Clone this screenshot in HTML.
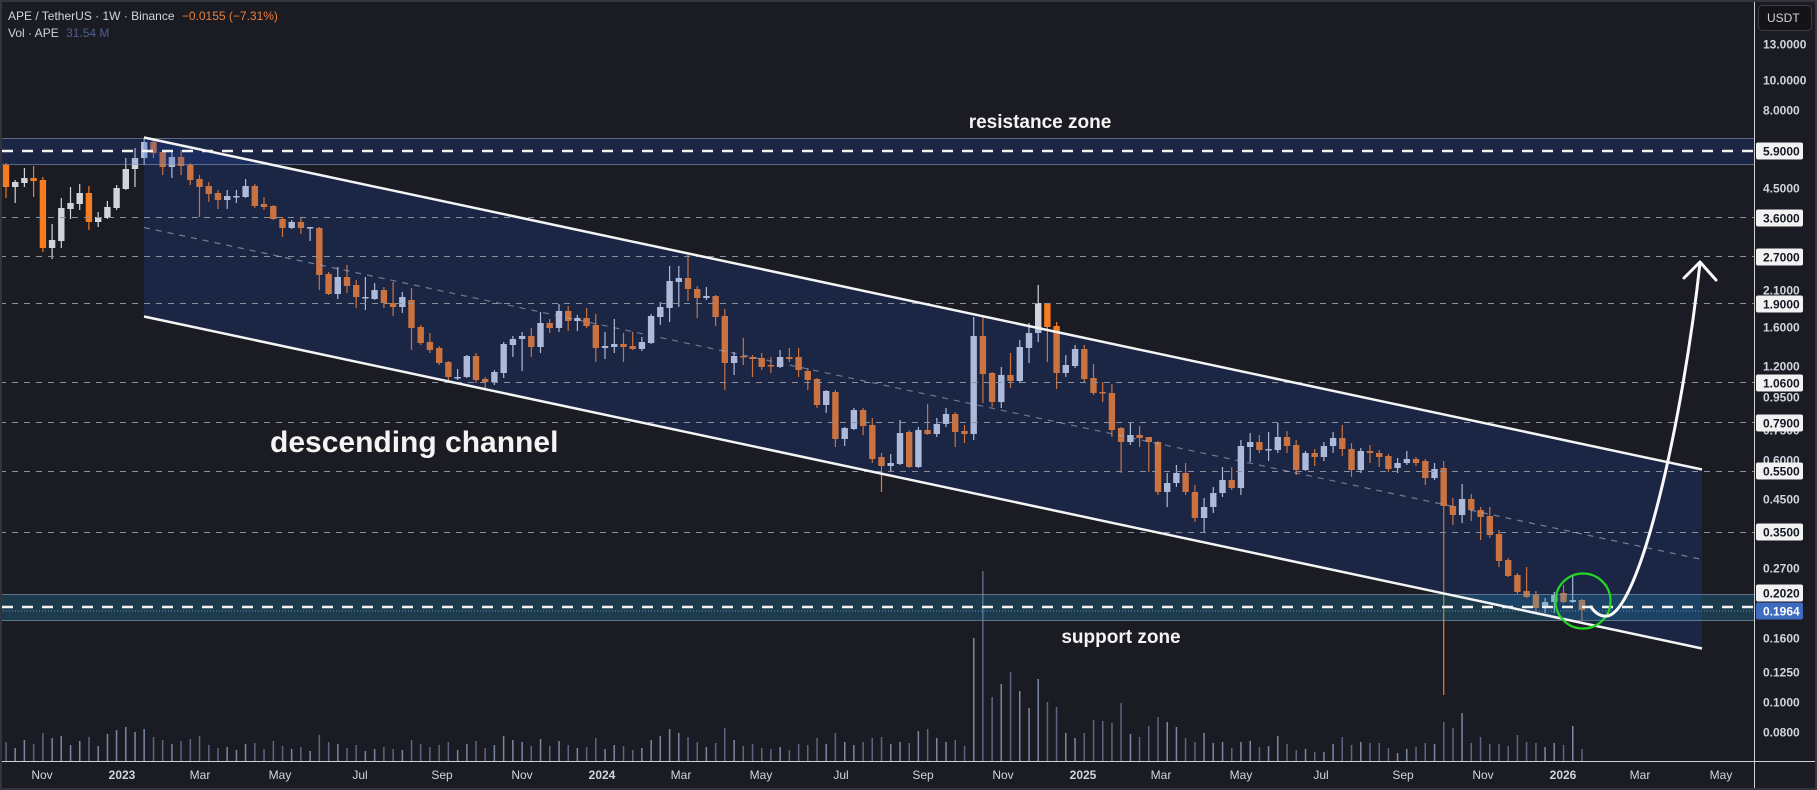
<!DOCTYPE html>
<html><head><meta charset="utf-8">
<style>
html,body{margin:0;padding:0;background:#1b1b24;}
body{width:1817px;height:790px;overflow:hidden;position:relative;font-family:"Liberation Sans",sans-serif;}
svg{position:absolute;left:0;top:0;}
</style></head><body>
<svg id="c" width="1817" height="790" viewBox="0 0 1817 790" xmlns="http://www.w3.org/2000/svg" font-family="Liberation Sans, sans-serif">
<rect width="1817" height="790" fill="#1b1b24"/>
<g id="vol"></g>
<g id="candles"></g>
<!-- fills -->
<rect x="0" y="138" width="1754" height="27" fill="rgba(30,80,200,0.2)"/>
<polygon points="144,138 1702,470 1702,649 144,317" fill="rgba(30,80,200,0.2)"/>
<rect x="0" y="594" width="1754" height="27" fill="rgba(30,160,200,0.25)"/>
<!-- zone borders -->
<g stroke="rgba(150,160,180,0.55)" stroke-width="1">
<line x1="0" y1="138.5" x2="1754" y2="138.5"/>
<line x1="0" y1="164.5" x2="1754" y2="164.5"/>
<line x1="0" y1="594.5" x2="1754" y2="594.5"/>
<line x1="0" y1="620.5" x2="1754" y2="620.5"/>
</g>
<!-- level dashed lines -->
<g stroke="#8a8f9c" stroke-width="1" stroke-dasharray="6 6">
<line x1="0" y1="217.5" x2="1754" y2="217.5"/>
<line x1="0" y1="256.5" x2="1754" y2="256.5"/>
<line x1="0" y1="303.5" x2="1754" y2="303.5"/>
<line x1="0" y1="382.5" x2="1754" y2="382.5"/>
<line x1="0" y1="422.5" x2="1754" y2="422.5"/>
<line x1="0" y1="471.5" x2="1754" y2="471.5"/>
<line x1="0" y1="532.5" x2="1754" y2="532.5"/>
</g>
<!-- last price dotted -->
<line x1="0" y1="611" x2="1754" y2="611" stroke="#6a8cc8" stroke-width="1" stroke-dasharray="1 2"/>
<!-- white dashed -->
<g stroke="#f2f2f2" stroke-width="2.5" stroke-dasharray="11 9">
<line x1="2" y1="151" x2="1754" y2="151"/>
<line x1="2" y1="607" x2="1754" y2="607"/>
</g>
<!-- channel lines -->
<line x1="144" y1="227.5" x2="1702" y2="559.5" stroke="rgba(170,180,205,0.6)" stroke-width="1.2" stroke-dasharray="6 6"/>
<line x1="144" y1="137.5" x2="1702" y2="469.5" stroke="#f4f4f4" stroke-width="2.5"/>
<line x1="144" y1="316.5" x2="1702" y2="648.5" stroke="#f4f4f4" stroke-width="2.5"/>
<!-- annotations -->
<text x="270" y="452" font-size="30" font-weight="bold" fill="#f4f4f4">descending channel</text>
<text x="1040" y="128" font-size="19" font-weight="bold" fill="#f4f4f4" text-anchor="middle">resistance zone</text>
<text x="1121" y="643" font-size="19" font-weight="bold" fill="#f4f4f4" text-anchor="middle">support zone</text>
<circle cx="1583" cy="601" r="27.5" fill="none" stroke="#22d822" stroke-width="2.2"/>
<path d="M1591,607 Q1598,617 1607,616 C1640,612 1683,420 1700,263" fill="none" stroke="#f8f8f8" stroke-width="3" stroke-linecap="round"/>
<path d="M1684,278 L1700,262 L1716,280" fill="none" stroke="#f8f8f8" stroke-width="3" stroke-linecap="round" stroke-linejoin="round"/>
<!-- header -->
<text x="8" y="20" font-size="12" fill="#d1d4dc">APE / TetherUS · 1W · Binance <tspan fill="#e8803c" dx="4">−0.0155 (−7.31%)</tspan></text>
<text x="8" y="37" font-size="12" fill="#d1d4dc">Vol · APE <tspan fill="#4f5f8f" dx="4">31.54 M</tspan></text>
<!-- axes frame -->
<rect x="1755" y="0" width="62" height="761" fill="#1b1b24"/>
<line x1="1754.5" y1="0" x2="1754.5" y2="790" stroke="#cfd0d6" stroke-width="1"/>
<line x1="0" y1="761.5" x2="1817" y2="761.5" stroke="#cfd0d6" stroke-width="1"/>
<!-- USDT -->
<rect x="1758.5" y="5.5" width="53" height="25" rx="4" fill="#131318" stroke="#3c3c46"/>
<text x="1767" y="22" font-size="12" fill="#d1d4dc">USDT</text>
<g id="ylab" font-size="12" font-weight="bold"></g>
<g id="xlab" font-size="12" fill="#d1d4dc" text-anchor="middle"></g>
<rect x="1" y="1" width="1815" height="788" fill="none" stroke="#34343c" stroke-width="2"/>
</svg>
<script>
const D=[
[165,187,163,198,0],[182,187,180,203,1],[178,183,168,187,1],[178,181,166,197,0],[180,248,177,252,0],
[240,248,224,259,1],[208,241,198,248,1],[203,209,187,219,1],[193,204,184,210,1],[193,222,186,230,0],
[217,222,212,227,1],[207,218,201,219,1],[188,208,185,210,1],[169,189,158,190,1],[158,169,148,187,1],
[142,158,138,165,1],[142,153,140,158,0],[152,167,150,175,0],[157,167,150,178,1],[157,166,150,175,0],
[165,180,163,185,0],[179,187,175,217,0],[186,194,182,202,0],[193,200,190,209,0],[196,200,190,209,1],
[196,197,190,203,1],[186,197,179,198,1],[186,206,184,208,0],[204,207,197,210,0],[206,219,205,220,0],
[219,228,217,237,0],[222,228,220,229,1],[222,228,218,234,0],[227,228,227,241,1],[228,275,227,290,0],
[274,294,272,295,0],[277,294,267,299,1],[277,286,265,293,0],[285,297,280,308,0],[297,298,277,310,1],
[290,299,283,300,1],[290,303,287,308,0],[303,307,282,316,0],[297,307,292,313,1],[300,328,288,350,0],
[327,343,325,345,0],[342,350,333,353,0],[348,363,346,365,0],[362,377,361,380,0],[377,378,369,380,1],
[356,377,355,378,1],[356,380,353,383,0],[379,382,377,388,0],[372,382,370,385,1],[344,373,342,378,1],
[339,345,336,357,1],[336,339,332,371,1],[336,347,328,357,0],[323,347,312,353,1],[323,328,319,333,0],
[311,328,304,332,1],[311,321,306,331,0],[318,321,315,331,1],[318,326,308,328,0],[325,348,314,362,0],
[346,348,332,359,1],[344,347,319,353,1],[344,347,333,362,0],[346,349,332,350,0],[342,349,337,351,1],
[316,343,314,344,1],[307,317,302,325,1],[281,308,266,322,1],[278,282,266,307,1],[278,289,255,301,0],
[289,298,286,318,0],[296,298,287,300,1],[296,317,295,326,0],[316,363,309,390,0],[356,363,352,375,1],
[356,357,338,365,0],[357,359,355,377,0],[358,367,353,370,0],[365,366,357,373,0],[357,367,350,368,1],
[357,359,348,362,0],[357,370,348,377,0],[371,380,368,390,0],[379,405,378,408,0],[391,405,390,413,1],
[392,439,390,447,0],[428,439,427,446,1],[410,429,408,430,1],[410,426,408,435,0],[425,459,418,463,0],
[457,466,453,492,0],[463,466,454,471,1],[433,464,420,465,1],[432,467,430,468,0],[430,467,427,468,1],
[430,434,404,435,0],[424,434,418,437,1],[414,424,408,427,1],[414,432,412,447,0],[431,434,425,443,0],
[336,434,317,440,1],[336,374,315,403,0],[373,402,372,407,0],[375,402,367,408,1],[375,381,353,388,0],
[347,381,340,383,1],[333,348,323,363,1],[303,333,285,342,1],[303,327,303,362,0],[326,373,322,389,0],
[365,373,355,377,1],[349,366,345,368,1],[349,379,345,382,0],[378,393,364,395,0],[392,393,382,402,0],
[393,430,384,437,0],[428,442,427,473,0],[435,442,423,445,1],[435,438,426,447,0],[437,442,437,472,0],
[442,492,441,495,0],[483,492,473,507,1],[473,483,465,487,1],[473,492,463,495,0],[492,518,485,522,0],
[507,518,498,532,1],[493,507,487,513,1],[480,493,467,497,1],[480,488,467,490,0],[446,488,440,495,1],
[442,447,433,462,1],[442,450,435,453,0],[449,450,432,461,1],[437,450,423,453,1],[437,446,431,453,0],
[445,470,440,475,0],[453,470,451,471,1],[453,457,449,466,0],[446,457,442,461,1],[438,446,432,453,1],
[438,449,425,456,0],[449,470,443,477,0],[451,470,448,473,1],[451,453,445,463,0],[453,457,450,467,0],
[456,469,454,472,0],[463,468,458,473,1],[459,463,451,465,1],[459,463,457,466,0],[461,478,459,485,0],
[469,478,463,480,1],[468,506,461,695,0],[506,515,498,525,0],[499,515,484,523,1],[499,510,494,521,0],
[510,517,507,540,0],[516,535,507,538,0],[534,561,530,567,0],[560,576,558,577,0],[575,592,573,594,0],
[591,597,567,598,0],[595,608,591,613,0],[602,608,598,613,1],[595,602,592,613,1],[593,602,585,603,0],
[600,602,576,603,1],[600,610,599,620,0]];
const V=[742,748,740,744,733,738,736,745,741,737,746,734,730,727,732,729,737,740,744,741,
739,736,745,748,747,750,744,743,749,741,746,749,747,751,735,742,744,748,745,751,
749,747,749,750,740,744,747,745,742,750,744,741,748,745,736,740,742,746,739,746,
741,745,748,747,738,749,745,746,750,748,740,736,729,733,737,742,747,743,728,740,
746,744,748,749,747,750,744,745,738,744,733,742,745,742,738,737,744,
742,743,731,729,738,742,740,746,638,571,697,684,672,691,708,679,702,707,733,738,
733,720,721,723,703,734,737,726,717,722,727,738,742,733,743,742,748,742,741,747,
746,736,744,750,749,752,752,744,737,745,742,743,743,748,753,749,747,743,744,722,
728,713,743,737,744,744,746,735,742,743,747,743,745,726,749];
let s='',v='';
D.forEach((d,i)=>{
  const x=+(6+9.216*i).toFixed(1);
  const col=d[4]?'#d1d4dc':'#f57c20';
  s+=`<line x1="${x}" y1="${d[2]}" x2="${x}" y2="${d[3]}" stroke="${col}" stroke-width="1.2"/>`;
  const h=Math.max(1.5,d[1]-d[0]);
  s+=`<rect x="${(x-3.2).toFixed(1)}" y="${d[0]}" width="6.4" height="${h}" fill="${col}"/>`;
  const vt=V[i]||745;
  v+=`<rect x="${(x-0.75).toFixed(1)}" y="${vt}" width="1.5" height="${761-vt}" fill="${d[4]?'#7b88a2':'#5e6681'}"/>`;
});
document.getElementById('candles').innerHTML=s;
document.getElementById('vol').innerHTML=v;
// y labels
const plain=[["13.0000",44],["10.0000",80],["8.0000",110],["4.5000",188],["2.1000",290],["1.6000",327],["1.2000",366],["0.9500",397],["0.7500",430],["0.6000",460],["0.4500",499],["0.2700",568],["0.1600",638],["0.1250",672],["0.1000",702],["0.0800",732]];
const boxed=[["5.9000",151],["3.6000",218],["2.7000",257],["1.9000",304],["1.0600",383],["0.7900",423],["0.5500",471],["0.3500",532],["0.2020",593]];
let y='';
plain.forEach(p=>{y+=`<text x="1763" y="${p[1]+4.3}" fill="#d1d4dc">${p[0]}</text>`;});
boxed.forEach(p=>{y+=`<rect x="1756" y="${p[1]-8.5}" width="47" height="17" rx="2" fill="#f2f2f2"/><text x="1763" y="${p[1]+4.3}" fill="#131722">${p[0]}</text>`;});
y+=`<rect x="1756" y="602.5" width="47" height="17" rx="2" fill="#3d6bc0"/><text x="1763" y="615.3" fill="#ffffff">0.1964</text>`;
document.getElementById('ylab').innerHTML=y;
const xl=[["Nov",42,0],["2023",122,1],["Mar",200,0],["May",280,0],["Jul",360,0],["Sep",442,0],["Nov",522,0],["2024",602,1],["Mar",681,0],["May",761,0],["Jul",841,0],["Sep",923,0],["Nov",1003,0],["2025",1083,1],["Mar",1161,0],["May",1241,0],["Jul",1321,0],["Sep",1403,0],["Nov",1483,0],["2026",1563,1],["Mar",1640,0],["May",1721,0]];
let xs='';
xl.forEach(p=>{xs+=`<text x="${p[1]}" y="779" ${p[2]?'font-weight="bold"':''}>${p[0]}</text>`;});
document.getElementById('xlab').innerHTML=xs;
</script>
</body></html>
